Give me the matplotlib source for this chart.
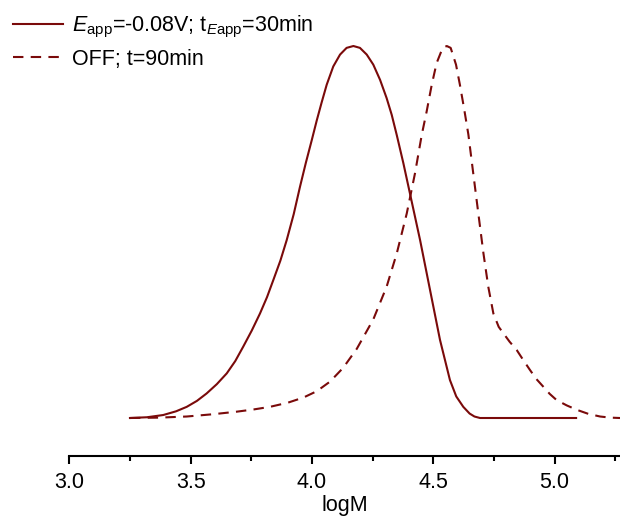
import matplotlib
matplotlib.use("Agg")
import matplotlib.pyplot as plt
from matplotlib.ticker import MultipleLocator

plt.rcParams['font.family'] = ['Liberation Sans', 'DejaVu Sans']
plt.rcParams['mathtext.fontset'] = 'custom'
plt.rcParams['mathtext.rm'] = 'Liberation Sans'
plt.rcParams['mathtext.it'] = 'Liberation Sans:italic'
plt.rcParams['mathtext.default'] = 'rm'

# Data (normalized intensity vs logM)
on_logM = [3.25, 3.32, 3.387, 3.44, 3.484, 3.526, 3.566, 3.608, 3.649, 3.684,
           3.717, 3.752, 3.786, 3.815, 3.841, 3.870, 3.896, 3.925, 3.951, 3.975,
           3.999, 4.020, 4.040, 4.061, 4.088, 4.116, 4.143, 4.171, 4.198, 4.226,
           4.253, 4.281, 4.308, 4.329, 4.350, 4.377, 4.404, 4.446, 4.487, 4.528,
           4.569, 4.595, 4.624, 4.650, 4.670, 4.693, 5.089]
on_w = [0.0, 0.002, 0.008, 0.018, 0.030, 0.046, 0.066, 0.091, 0.120, 0.153,
        0.192, 0.235, 0.281, 0.325, 0.371, 0.423, 0.478, 0.548, 0.622, 0.686,
        0.746, 0.800, 0.848, 0.896, 0.945, 0.977, 0.995, 1.0, 0.995, 0.977,
        0.950, 0.909, 0.860, 0.815, 0.760, 0.685, 0.604, 0.478, 0.344, 0.210,
        0.102, 0.058, 0.030, 0.012, 0.004, 0.0, 0.0]

off_logM = [3.25, 3.37, 3.484, 3.59, 3.690, 3.76, 3.827, 3.90, 3.965, 4.02,
            4.075, 4.129, 4.185, 4.253, 4.308, 4.350, 4.391, 4.425, 4.453,
            4.473, 4.494, 4.514, 4.539, 4.556, 4.572, 4.594, 4.610, 4.627, 4.645,
            4.665, 4.686, 4.707, 4.727, 4.748, 4.770, 4.789, 4.815, 4.844, 4.870,
            4.899, 4.925, 4.954, 4.980, 5.009, 5.05, 5.092, 5.14, 5.188, 5.23, 5.27]
off_w = [0.0, 0.001, 0.004, 0.010, 0.017, 0.023, 0.030, 0.041, 0.055, 0.072,
         0.098, 0.135, 0.186, 0.265, 0.353, 0.443, 0.550, 0.658, 0.762,
         0.824, 0.896, 0.954, 0.995, 1.0, 0.995, 0.950, 0.896, 0.833, 0.762,
         0.658, 0.550, 0.443, 0.353, 0.281, 0.245, 0.228, 0.205, 0.183, 0.157,
         0.129, 0.105, 0.084, 0.065, 0.048, 0.034, 0.022, 0.011, 0.004, 0.001, 0.0]

labels = [r'$\mathit{E}_{\mathrm{app}}$=-0.08V; t$_{\mathit{E}\mathrm{app}}$=30min',
          'OFF; t=90min']
xticks = [3.0, 3.5, 4.0, 4.5, 5.0]

color = '#7a0a0a'
fs = 15.5

fig = plt.figure(figsize=(6.2, 5.18), dpi=100)
ax = fig.add_axes([0.1118, 0.1203, 0.8882, 0.8797])

ax.plot(on_logM, on_w, color=color, lw=1.5, label=labels[0],
        solid_joinstyle='round')
ax.plot(off_logM, off_w, color=color, lw=1.5, ls=(0, (5, 3.5)), label=labels[1])

ax.set_xlim(3.0, 5.27)
ax.set_ylim(-0.1013, 1.1237)

for s in ['top', 'right', 'left']:
    ax.spines[s].set_visible(False)
ax.spines['bottom'].set_linewidth(1.5)
ax.set_yticks([])
ax.set_xticks(xticks)
ax.set_xticklabels([f'{v:.1f}' for v in xticks])
ax.xaxis.set_minor_locator(MultipleLocator(0.25))
ax.tick_params(axis='x', which='major', direction='out', length=6, width=1.5,
               labelsize=fs, pad=6)
ax.tick_params(axis='x', which='minor', direction='out', length=3.5, width=1.5)
ax.set_xlabel('logM', fontsize=fs, labelpad=1.5)

leg = fig.legend(loc='upper left', bbox_to_anchor=(0.0105, 0.985), frameon=False,
                 fontsize=fs, handlelength=2.33, handletextpad=0.4,
                 borderpad=0.3, borderaxespad=0, labelspacing=0.4)

fig.savefig('out.png', dpi=100)
